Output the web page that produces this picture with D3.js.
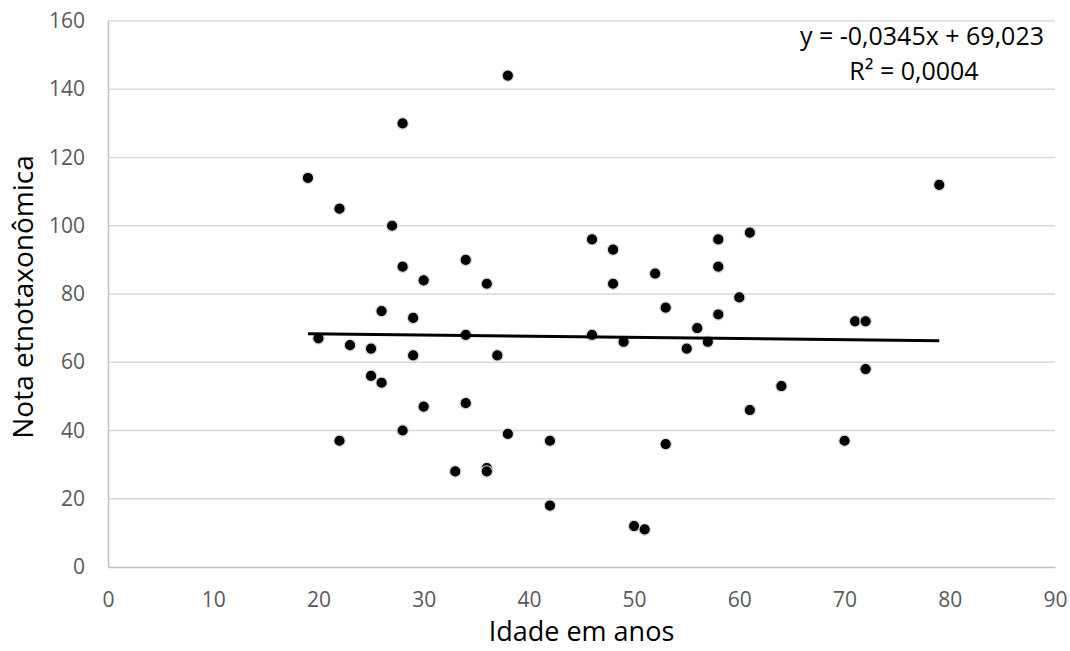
<!DOCTYPE html>
<html>
<head>
<meta charset="utf-8">
<script src="https://cdn.jsdelivr.net/npm/d3@7"></script>
<style>
  body { margin: 0; background: #fff; }
  svg text { font-family: "Open Sans", "Noto Sans", sans-serif; }
</style>
</head>
<body>
<svg id="chart" width="1070" height="651"></svg>
<script>
// idade (anos) e nota etnotaxonomica
var idade = [19, 20, 22, 22, 23, 25, 25, 26, 26, 27, 28, 28, 28, 29, 29, 30, 30, 33, 34, 34,
             34, 36, 36, 36, 37, 38, 38, 42, 42, 46, 46, 48, 48, 49, 50, 51, 52, 53, 53, 55,
             56, 57, 58, 58, 58, 60, 61, 61, 64, 70, 71, 72, 72, 79];
var nota  = [114, 67, 105, 37, 65, 64, 56, 75, 54, 100, 130, 88, 40, 73, 62, 84, 47, 28, 90, 68,
             48, 83, 29, 28, 62, 144, 39, 37, 18, 96, 68, 93, 83, 66, 12, 11, 86, 76, 36, 64,
             70, 66, 96, 88, 74, 79, 98, 46, 53, 37, 72, 72, 58, 112];

var xTicks = [0, 10, 20, 30, 40, 50, 60, 70, 80, 90];
var yTicks = [0, 20, 40, 60, 80, 100, 120, 140, 160];

// linha de tendencia (Excel)
var slope = -0.0345;
var intercept = 69.023;
var eqLines = ["y = -0,0345x + 69,023", "R² = 0,0004"];

var svg = d3.select("#chart"),
    margin = {left: 108, right: 15, top: 21, bottom: 84},
    width = +svg.attr("width"),
    height = +svg.attr("height");

var x = d3.scaleLinear().domain([0, 90]).range([margin.left, width - margin.right]);
var y = d3.scaleLinear().domain([0, 160]).range([height - margin.bottom, margin.top]);

// grade horizontal
svg.append("g")
    .selectAll("line")
    .data(yTicks.filter(function(d) { return d > 0; }))
    .enter().append("line")
    .attr("x1", x(0)).attr("x2", x(90))
    .attr("y1", function(d) { return y(d); })
    .attr("y2", function(d) { return y(d); })
    .attr("stroke", "#d9d9d9")
    .attr("stroke-width", 1.5);

var xAxis = svg.append("g")
    .attr("transform", "translate(0," + y(0) + ")")
    .call(d3.axisBottom(x).tickValues(xTicks).tickSize(0).tickPadding(25));

var yAxis = svg.append("g")
    .attr("transform", "translate(" + x(0) + ",0)")
    .call(d3.axisLeft(y).tickValues(yTicks).tickSize(0).tickPadding(23));

[xAxis, yAxis].forEach(function(a) {
    a.select(".domain").attr("stroke", "#bfbfbf").attr("stroke-width", 1.5);
    a.selectAll("text").attr("fill", "#595959").style("font-size", "21px");
});
xAxis.selectAll("text").attr("dy", "0.71em");

// pontos
svg.append("g")
    .selectAll("circle")
    .data(idade)
    .enter().append("circle")
    .attr("cx", function(d) { return x(d); })
    .attr("cy", function(d, i) { return y(nota[i]); })
    .attr("r", 5.7)
    .attr("fill", "#000")
    .attr("stroke", "#d9d9d9")
    .attr("stroke-width", 1.2);

// tendencia linear
var xr = d3.extent(idade);
svg.append("line")
    .attr("x1", x(xr[0])).attr("y1", y(slope * xr[0] + intercept))
    .attr("x2", x(xr[1])).attr("y2", y(slope * xr[1] + intercept))
    .attr("stroke", "#000")
    .attr("stroke-width", 3);

// equacao
var eq = svg.append("g");
eq.append("text")
    .attr("x", 1044).attr("y", 45)
    .attr("text-anchor", "end")
    .style("font-size", "25px")
    .text(eqLines[0]);
eq.append("text")
    .attr("x", 914).attr("y", 80)
    .attr("text-anchor", "middle")
    .style("font-size", "25px")
    .text(eqLines[1]);

// titulos dos eixos
svg.append("text")
    .attr("x", (x(0) + x(90)) / 2)
    .attr("y", 641)
    .attr("text-anchor", "middle")
    .style("font-size", "27px")
    .text("Idade em anos");

svg.append("text")
    .attr("transform", "translate(33," + ((y(0) + y(160)) / 2 + 3) + ") rotate(-90)")
    .attr("text-anchor", "middle")
    .style("font-size", "28px")
    .text("Nota etnotaxonômica");
</script>
</body>
</html>
